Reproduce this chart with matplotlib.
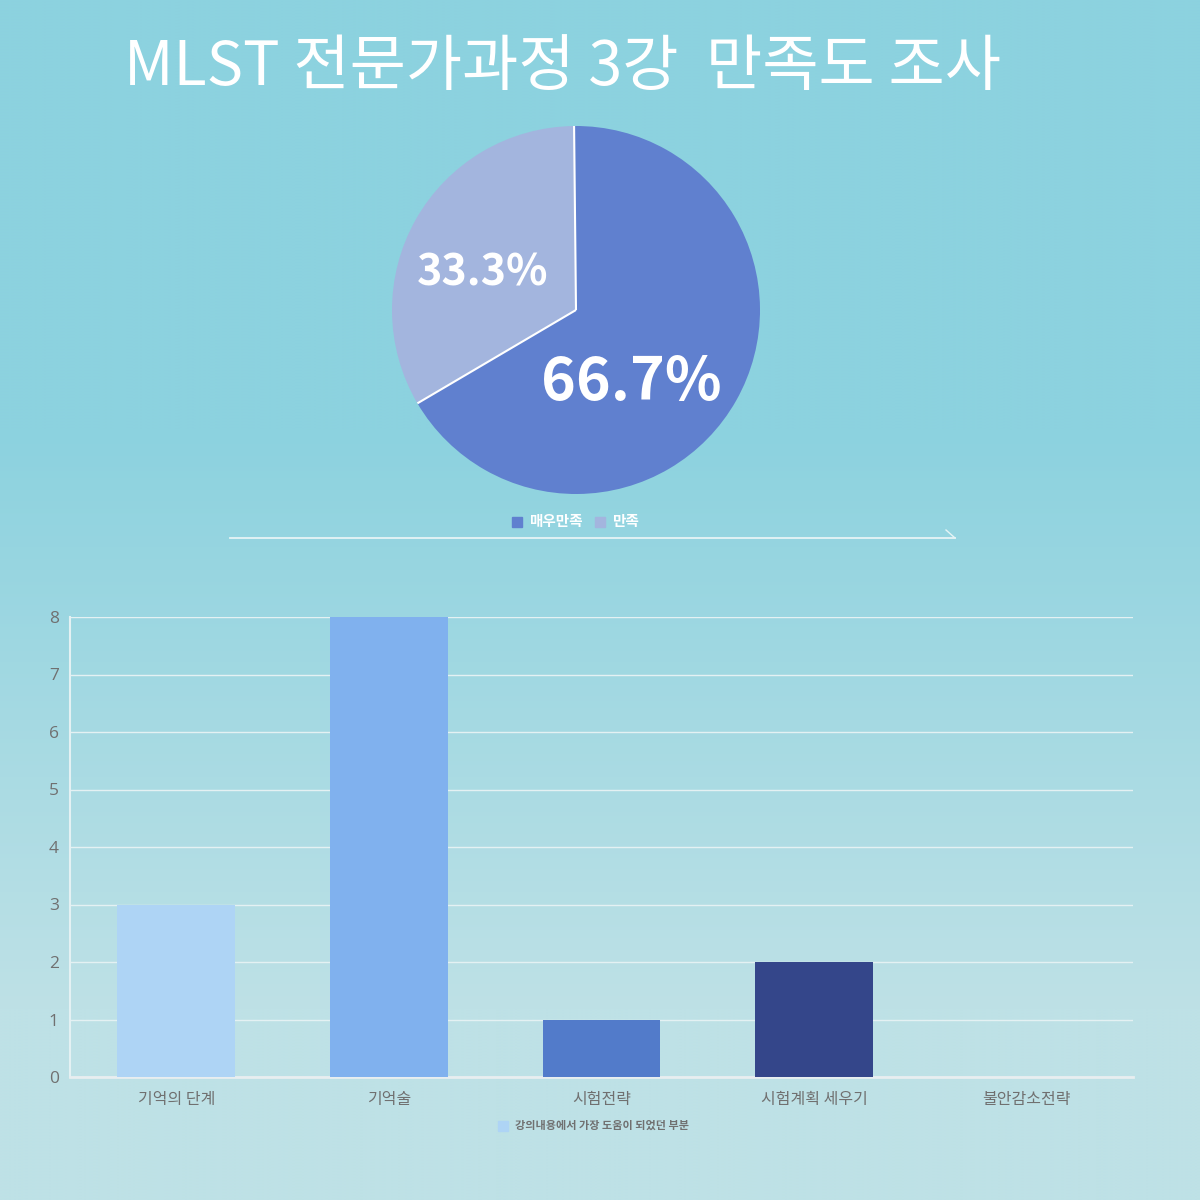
import numpy as np
import matplotlib
matplotlib.use("Agg")
import matplotlib.pyplot as plt
from matplotlib.lines import Line2D
from matplotlib.patches import Rectangle

plt.rcParams["font.family"] = ["Noto Sans CJK KR", "DejaVu Sans"]

# ---------------------------------------------------------------- data
title = "MLST 전문가과정 3강  만족도 조사"

pie_labels = ["매우만족", "만족"]
pie_values = [66.7, 33.3]
pie_colors = ["#6080cf", "#a3b5de"]

bar_categories = ["기억의 단계", "기억술", "시험전략", "시험계획 세우기", "불안감소전략"]
bar_values = [3, 8, 1, 2, 0]
bar_colors = ["#aed4f5", "#80b1ee", "#527bca", "#34468a", "#2a3570"]
bar_series = "강의내용에서 가장 도움이 되었던 부분"

W, H = 1200, 1200
fig = plt.figure(figsize=(12, 12), dpi=100)

# ---------------------------------------------------------------- background
top = np.array([140, 210, 223]) / 255
bot = np.array([190, 225, 230]) / 255
ys = np.linspace(0, 1, 400)
t = np.clip((ys - 0.36) / (0.84 - 0.36), 0, 1)
grad = top[None, :] * (1 - t[:, None]) + bot[None, :] * t[:, None]
bg = fig.add_axes([0, 0, 1, 1])
bg.imshow(np.repeat(grad[:, None, :], 2, axis=1), aspect="auto",
          extent=[0, 1, 1, 0])
bg.set_xlim(0, 1); bg.set_ylim(1, 0)
bg.axis("off")


def fx(px):
    return px / W


def fy(py):
    return 1 - py / H


# ---------------------------------------------------------------- title
fig.text(fx(562), fy(68), title, ha="center", va="center", fontsize=44,
         color="white", fontweight="regular")

# ---------------------------------------------------------------- pie
cx, cy, r = 576, 310, 184
start = 90.6
pax = fig.add_axes([fx(cx - r), fy(cy + r), 2 * r / W, 2 * r / H])
pax.pie(pie_values, colors=pie_colors, startangle=start, counterclock=False,
        wedgeprops=dict(linewidth=0))
# white separators between slices only
cum = np.cumsum([0] + pie_values) / sum(pie_values)
for frac in cum[:-1]:
    ang = np.deg2rad(start - 360 * frac)
    pax.plot([0, np.cos(ang)], [0, np.sin(ang)], color="white", lw=1.5,
             solid_capstyle="butt")
pax.set_xlim(-1, 1); pax.set_ylim(-1, 1)
pax.set_aspect("equal")
fig.text(fx(631), fy(383), f"{pie_values[0]}%", ha="center", va="center",
         fontsize=42.5, fontweight="bold", color="white")
fig.text(fx(483), fy(272), f"{pie_values[1]}%", ha="center", va="center",
         fontsize=31, fontweight="bold", color="white")

# pie legend
lx = 512
for lab, col, off in zip(pie_labels, pie_colors, [0, 83]):
    fig.patches.append(Rectangle((fx(lx + off), fy(527)), 10 / W, 10 / H,
                                 transform=fig.transFigure, color=col))
    fig.text(fx(lx + off + 17), fy(521), lab, ha="left", va="center",
             fontsize=10.5, fontweight="bold", color="white")

# divider line with small hook
fig.add_artist(Line2D([fx(230), fx(955)], [fy(538), fy(538)],
                      color="#e6f4f6", lw=1.3))
fig.add_artist(Line2D([fx(946), fx(955)], [fy(530), fy(538)],
                      color="#e6f4f6", lw=1.0))

# ---------------------------------------------------------------- bars
x0, x1, y0, y1 = 70, 1133, 617, 1077
ax = fig.add_axes([fx(x0), fy(y1), (x1 - x0) / W, (y1 - y0) / H])
ax.patch.set_alpha(0)
xpos = np.arange(len(bar_categories))
ax.bar(xpos, bar_values, width=0.555, color=bar_colors, zorder=3)
ax.set_xlim(-0.5, len(bar_categories) - 0.5)
ax.set_ylim(0, 8)
ax.set_yticks(range(0, 9))
ax.set_xticks(xpos)
ax.set_xticklabels(bar_categories)
ax.tick_params(axis="both", length=0, colors="#707070", labelsize=11.5)
ax.tick_params(axis="x", pad=10)
ax.tick_params(axis="y", pad=8)
for lab in ax.get_yticklabels():
    lab.set_fontfamily(["Open Sans", "DejaVu Sans"])
    lab.set_fontsize(12.5)
ax.grid(axis="y", color="#e4f1f3", lw=1.0, zorder=1)
for side in ["top", "right"]:
    ax.spines[side].set_visible(False)
ax.spines["left"].set_color("#e4f1f3")
ax.spines["bottom"].set_color("#e8eef0")
ax.spines["bottom"].set_linewidth(2)
ax.spines["left"].set_linewidth(1.5)

# bar legend
fig.patches.append(Rectangle((fx(498), fy(1131)), 10 / W, 10 / H,
                             transform=fig.transFigure, color=bar_colors[0]))
fig.text(fx(515), fy(1125), bar_series, ha="left", va="center",
         fontsize=8, fontweight="bold", color="#707070")

fig.savefig("out.png", dpi=100)
